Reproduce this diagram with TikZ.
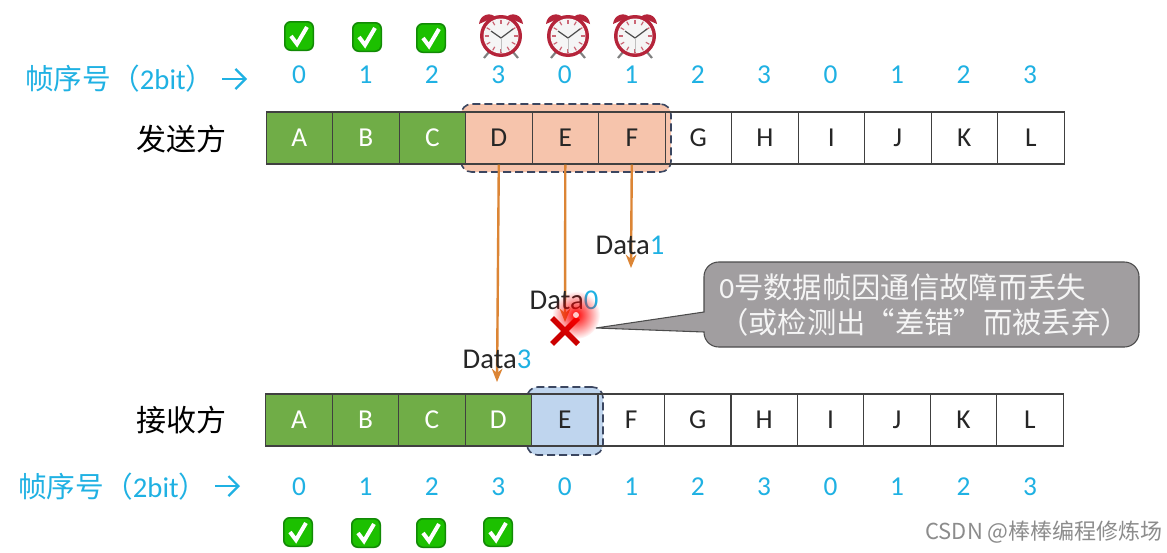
\documentclass[tikz,border=0pt]{standalone}
\usepackage{fontspec}
\setmainfont{Carlito}
\newfontfamily\cjk{Noto Sans CJK SC}
\newfontfamily\lat{Carlito}
\usetikzlibrary{arrows.meta,fadings,calc}
\tikzfading[name=glowfade,inner color=transparent!0,middle color=transparent!15,outer color=transparent!100]
\definecolor{seqblue}{HTML}{1FB1E3}
\definecolor{okgreen}{HTML}{70AD47}
\definecolor{winred}{HTML}{F6C4AC}
\definecolor{winblue}{HTML}{BFD5EE}
\definecolor{dashnavy}{HTML}{3B4660}
\definecolor{orangeline}{HTML}{DC8535}
\definecolor{callgray}{HTML}{A19EA0}
\definecolor{clockred}{HTML}{B5243A}
\definecolor{okfill}{HTML}{1CC000}
\definecolor{okedge}{HTML}{128A06}
\tikzset{
  cellbox/.style={draw=black!75,line width=.8pt,minimum width=49.9pt,minimum height=39pt,inner sep=0pt,font=\fontsize{20.5}{22}\selectfont,text=black!85},
  donebox/.style={cellbox,fill=okgreen,text=white},
  seqnum/.style={text=seqblue,inner sep=0pt,font=\fontsize{20.5}{22}\selectfont},
  seqlabel/.style={text=seqblue,inner sep=0pt,anchor=west,font=\fontsize{21.5}{23}\cjk\selectfont},
  rolelabel/.style={text=black,inner sep=0pt,font=\fontsize{22.5}{25}\cjk\selectfont},
  datalabel/.style={text=black!85,inner sep=0pt,font=\fontsize{21.5}{23}\selectfont},
  window/.style={draw=dashnavy,line width=1.2pt,dash pattern=on 6pt off 3pt,rounded corners=8pt},
  sendline/.style={draw=orangeline,line width=1.8pt,-{Stealth[length=10pt,width=8pt]}},
  seqarrow/.style={draw=seqblue,line width=1.6pt,-{Straight Barb[length=7.5pt,width=15pt]}},
  okicon/.pic={
    \fill[rounded corners=5pt,fill=okedge] (-15,-15) rectangle (15,15);
    \fill[rounded corners=4pt,fill=okfill] (-13.5,-13.5) rectangle (13.5,13.5);
    \draw[white,line width=3pt,line join=miter] (-8,0) -- (-2,8) -- (8,-9);
  },
  clockicon/.pic={
    \draw[gray,line width=1.6pt] (-12,16) -- (-17,22) (12,16) -- (17,22);
    \fill[clockred] (-22,-12) .. controls (-21,-22) and (-10,-24) .. (-6,-19) -- cycle;
    \fill[clockred] (22,-12) .. controls (21,-22) and (10,-24) .. (6,-19) -- cycle;
    \fill[clockred] (0,0) circle (21);
    \fill[white!92!gray] (0,0) circle (17.5);
    \foreach \a in {0,30,...,330}{\draw[clockred!70,line width=.9pt] (\a:12.5) -- (\a:16.5);}
    \draw[black!70,line width=.9pt] (-10,-5) -- (0,2) -- (12,-7);
    \draw[gray!50,line width=.7pt] (0,2) -- (0,16);
  }
}
\begin{document}
\begin{tikzpicture}[x=0.75pt,y=-0.75pt]
\useasboundingbox[fill=white] (0,0) rectangle (1167,553);
% row backdrops and sliding windows
\node[minimum width=598.5pt,minimum height=39pt,fill=white,inner sep=0pt] (topback) at (665.5,138) {};
\node[minimum width=598.5pt,minimum height=39pt,fill=white,inner sep=0pt] (botback) at (665,420) {};
\node[window,fill=winred,minimum width=157.5pt,minimum height=51pt,inner sep=0pt] (sendwin) at (566,138) {};
\node[window,fill=winblue,minimum width=57pt,minimum height=51pt,inner sep=0pt] (recvwin) at (565,421) {};
% cells
\foreach \t [count=\i from 0] in {A,B,C,D,E,F,G,H,I,J,K,L}{
  \pgfmathsetmacro\cx{299.3+66.5*\i}
  \ifnum\i<3
    \node[donebox] (s\t) at (\cx,138) {\t};
  \else
    \node[cellbox] (s\t) at (\cx,138) {\t};
  \fi
  \pgfmathsetmacro\cy{299+66.45*\i}
  \ifnum\i<4
    \node[donebox] (r\t) at (\cy,420) {\t};
  \else
    \node[cellbox] (r\t) at (\cy,420) {\t};
  \fi
}
% sequence numbers
\foreach \n [count=\i from 0] in {0,1,2,3,0,1,2,3,0,1,2,3}{
  \pgfmathsetmacro\cx{299+66.45*\i}
  \node[seqnum] (tn\i) at (\cx,75) {\n};
  \node[seqnum] (bn\i) at (\cx,487) {\n};
}
\node[seqlabel] (toplabel) at (25,79) {帧序号（{\lat 2bit}）};
\node[seqlabel] (botlabel) at (18,487) {帧序号（{\lat 2bit}）};
\coordinate (ta1) at (222,79); \coordinate (ta2) at (247,79);
\coordinate (ba1) at (215,486); \coordinate (ba2) at (240,486);
\draw[seqarrow] (ta1) -- (ta2);
\draw[seqarrow] (ba1) -- (ba2);
\node[rolelabel] (sender) at (181,139) {发送方};
\node[rolelabel] (receiver) at (181,420) {接收方};
% icons
\pic at (299,36) {okicon};
\pic at (367,37) {okicon};
\pic at (431,38) {okicon};
\pic at (298,532) {okicon};
\pic at (366,533) {okicon};
\pic at (431,533) {okicon};
\pic at (498,532) {okicon};
\pic at (501,36) {clockicon};
\pic at (568,36) {clockicon};
\pic at (635,36) {clockicon};
% frames in flight
\coordinate (d3end) at (497,382);
\coordinate (d0end) at (565,322);
\coordinate (d1end) at (631,268);
\draw[sendline] (sD.south) -- (d3end);
\draw[sendline] (sE.south) -- (d0end);
\draw[sendline] (sF.south) -- (d1end);
\node[datalabel] (data1) at (630,245) {Data{\color{seqblue}1}};
\node[datalabel] (data0) at (564,300) {Data{\color{seqblue}0}};
\node[datalabel] (data3) at (497,359) {Data{\color{seqblue}3}};
% red cross and pointer glow
\coordinate (xc) at (565,331);
\draw[red!80!black,line width=4pt] ($(xc)+(-13,-13)$) -- ($(xc)+(13,13)$) ($(xc)+(13,-13)$) -- ($(xc)+(-13,13)$);
\fill[red,path fading=glowfade] (576,315) circle (24);
\fill[white!80!red] (576,315) circle (3);
% callout
\draw[fill=callgray,draw=black!70,line width=.8pt]
  (596,328) -- (704,312) [rounded corners=11pt] -- (704,262) -- (1139,262) -- (1139,347) -- (704,347) [sharp corners] -- (704,332) -- cycle;
\node[inner sep=0pt,align=left,anchor=west,text=white!92!gray,font=\fontsize{22}{26.2}\cjk\selectfont] (note) at (719,305)
  {{\lat 0}号数据帧因通信故障而丢失\\（或检测出“差错”而被丢弃）};
% watermark
\node[inner sep=0pt,anchor=east,text=black!45,font=\fontsize{16.5}{18}\cjk\selectfont] (mark) at (1163,532) {CSDN @棒棒编程修炼场};
\end{tikzpicture}
\end{document}
